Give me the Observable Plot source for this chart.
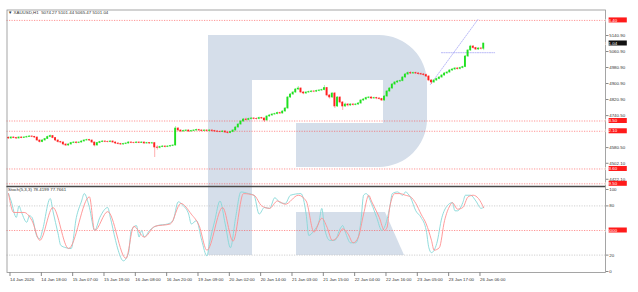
<!DOCTYPE html>
<html>
<head>
<meta charset="utf-8">
<script src="https://cdn.jsdelivr.net/npm/d3@7"></script>
<script src="https://cdn.jsdelivr.net/npm/@observablehq/plot@0.6"></script>
<style>
html,body{margin:0;padding:0;background:#fff;}
#chart{position:relative;width:638px;height:292px;overflow:hidden;background:#fff;}
#chart svg{position:absolute;left:0;}
</style>
</head>
<body>
<div id="chart"></div>
<script>
// ---------- data ----------
const chartTitle = "\u25BC XAUUSD,H1  5074.27 5101.44 5065.47 5101.04";
const oscTitle = "Stoch(5,3,3) 78.4199 77.7661";

const opens = [
4630,4626,4631,4628.5,4626,4631,4628.5,4631,4633.5,4636,
4634,4631,4616,4608.5,4616,4623.5,4633.5,4638.5,4628.5,4616,
4608.5,4606,4596,4591,4596,4603.5,4606,4603.5,4606,4611,
4616,4618.5,4616,4606,4591,4603.5,4608.5,4611,4609,4608.5,
4611,4606,4601,4598.5,4596,4598.5,4601,4606,4604,4603.5,
4606,4603.5,4606,4601,4603.5,4601,4603,4581,4579,4583.5,
4586,4583.5,4586,4588.5,4591,4676,4666,4661,4663.5,4666,
4661,4663.5,4666,4668.5,4666,4663.5,4666,4663.5,4666,4663.5,
4661,4659.5,4658.5,4661,4656,4653.5,4658.5,4666,4681,4696,
4711,4721,4718.5,4723.5,4726,4724,4723.5,4728.5,4726,4716,
4736,4741,4746,4748.5,4753.5,4751,4761,4776,4831,4846,
4856,4871,4876,4856,4851,4856,4858.5,4861,4860,4863.5,
4866,4868.5,4878.5,4841,4831,4851,4786,4831,4806,4786,
4796,4791,4796,4793.5,4796,4801,4816,4821,4828.5,4831,
4826,4828.5,4826,4823.5,4816,4836,4861,4876,4896,4906,
4911,4913.5,4931,4946,4953.5,4951,4953.5,4951,4948.5,4946,
4943.5,4936,4916,4906,4916,4923.5,4931,4941,4951,4956,
4966,4971,4976,4973.5,4978.5,4983.5,5036,5066,5086,5078.5,
5071,5076,5074.27];
const highs = [
4634,4635,4634,4632,4635,4634,4636,4638,4641,4640,
4637,4633,4619,4620,4627,4638,4644,4641,4631,4619,
4612,4609,4599,4600,4607,4610,4610,4609,4615,4620,
4623,4622,4618,4608,4607,4612,4615,4614,4613,4615,
4614,4609,4604,4602,4602,4605,4610,4609,4608,4610,
4609,4610,4608,4607,4606,4607,4606,4590,4588,4590,
4589,4590,4592,4595,4686,4680,4669,4668,4670,4669,
4667,4670,4673,4672,4669,4670,4669,4670,4669,4667,
4665,4664,4665,4664,4660,4662,4670,4685,4700,4716,
4726,4727,4728,4731,4730,4729,4733,4732,4729,4740,
4746,4750,4753,4758,4758,4765,4781,4836,4851,4861,
4876,4886,4879,4860,4860,4863,4866,4865,4868,4871,
4873,4891,4881,4846,4855,4856,4836,4834,4811,4803,
4801,4800,4800,4801,4806,4820,4826,4833,4836,4834,
4833,4832,4830,4827,4840,4866,4881,4901,4911,4916,
4919,4936,4951,4959,4960,4958,4958,4955,4953,4951,
4948,4940,4920,4920,4928,4936,4946,4956,4961,4971,
4976,4981,4980,4983,4988,5041,5071,5092,5090,5082,
5080,5081,5101.44];
const lows = [
4622,4622,4625,4621,4623,4625,4626,4628,4631,4630,
4626,4612,4603,4605,4613,4621,4630,4624,4611,4603,
4600,4590,4586,4587,4593,4600,4599,4600,4603,4608,
4613,4611,4601,4584,4588,4600,4605,4605,4604,4605,
4602,4596,4594,4591,4592,4595,4598,4600,4599,4600,
4600,4601,4597,4598,4597,4596,4531,4568,4574,4580,
4579,4580,4582,4585,4588,4660,4655,4657,4660,4656,
4657,4660,4662,4661,4659,4660,4658,4660,4658,4656,
4655,4654,4655,4651,4648,4650,4655,4663,4678,4692,
4707,4713,4714,4719,4719,4718,4719,4721,4706,4713,
4732,4737,4742,4744,4746,4748,4757,4772,4826,4841,
4851,4866,4850,4845,4846,4851,4854,4855,4856,4859,
4861,4864,4834,4823,4826,4776,4781,4799,4766,4781,
4784,4786,4788,4789,4791,4797,4811,4817,4824,4821,
4822,4820,4818,4811,4812,4832,4857,4872,4891,4901,
4906,4909,4927,4941,4946,4946,4946,4943,4941,4938,
4931,4910,4896,4902,4911,4919,4927,4937,4946,4952,
4961,4966,4968,4969,4974,4980,5031,5061,5073,5066,
5066,5069,5065.47];
const closes = [
4626,4631,4628.5,4626,4631,4628.5,4631,4633.5,4636,4634,
4631,4616,4608.5,4616,4623.5,4633.5,4638.5,4628.5,4616,4608.5,
4606,4596,4591,4596,4603.5,4606,4603.5,4606,4611,4616,
4618.5,4616,4606,4591,4603.5,4608.5,4611,4609,4608.5,4611,
4606,4601,4598.5,4596,4598.5,4601,4606,4604,4603.5,4606,
4603.5,4606,4601,4603.5,4601,4603,4581,4579,4583.5,4586,
4583.5,4586,4588.5,4591,4676,4666,4661,4663.5,4666,4661,
4663.5,4666,4668.5,4666,4663.5,4666,4663.5,4666,4663.5,4661,
4659.5,4658.5,4661,4656,4653.5,4658.5,4666,4681,4696,4711,
4721,4718.5,4723.5,4726,4724,4723.5,4728.5,4726,4716,4736,
4741,4746,4748.5,4753.5,4751,4761,4776,4831,4846,4856,
4871,4876,4856,4851,4856,4858.5,4861,4860,4863.5,4866,
4868.5,4878.5,4841,4831,4851,4786,4831,4806,4786,4796,
4791,4796,4793.5,4796,4801,4816,4821,4828.5,4831,4826,
4828.5,4826,4823.5,4816,4836,4861,4876,4896,4906,4911,
4913.5,4931,4946,4953.5,4951,4953.5,4951,4948.5,4946,4943.5,
4936,4916,4906,4916,4923.5,4931,4941,4951,4956,4966,
4971,4976,4973.5,4978.5,4983.5,5036,5066,5086,5078.5,5071,
5076,5074.27,5101.04];

// horizontal levels (red dotted) and current price
const levelPrices = [5216.4, 4713.5, 4662.1, 4473.6, 4399.5];
const currentPrice = 5101.04;
// analysis objects (bar index, price)
const trendBars = [161.6, 180];
const trendPrices = [4896, 5225];
const hLineBars = [165.8, 186.2];
const hLinePrices = [5055, 5055];

// price axis tick values
const priceTicks = [5140.9, 5060.9, 4980.9, 4900.9, 4820.9, 4740.5, 4580.5, 4502.1, 4422.1];

// stochastic %K and %D (bar index, value)
const kBars = [0,1,3,4,5,7,8,9,11,12,13,16,17,19,20,22,24,26,28,29,31,33,35,38,39,41,42,44,46,47,49,50,51,52,54,57,61,63,65,67,69,70,72,74,76,77,79,81,83,85,87,89,92,94,96,98,100,102,104,106,108,112,114,115,117,119,120,121,123,125,127,128,129,131,133,135,136,137,139,141,143,144,146,147,149,151,152,154,156,158,160,161,162,164,166,168,170,171,172,174,175,177,179,181,182];
const kValues = [95,86,66,80,72,60,68,66,42,40,50,89,74,46,32,29,28,66,86,95,78,50,66,78,66,38,26,13,23,50,56,42,50,42,50,56,58,62,85,80,70,58,62,38,19,35,62,86,58,29,66,97,95,93,70,78,77,90,84,83,93,95,70,44,50,62,77,54,38,38,52,56,48,35,35,62,93,95,83,66,50,54,78,95,97,93,97,90,74,66,50,29,23,34,66,80,84,74,74,84,93,93,86,77,78.42];
const dBars = [0,2,6,9,12,17,23,31,33,38,45,48,52,56,62,66,70,73,76,82,86,90,94,97,100,103,106,111,114,117,120,122,124,126,128,130,132,134,136,138,139,142,144,145,146,148,150,152,154,156,158,160,162,163,165,167,169,170,172,174,176,178,180,182];
const dValues = [95,72,72,62,38,78,28,91,50,73,16,55,42,55,58,83,70,56,26,78,37,95,93,80,77,86,82,93,86,48,65,54,38,42,52,46,35,42,70,93,86,66,50,54,78,95,95,93,91,83,70,58,38,26,29,62,80,84,76,78,91,93,89,77.77];
const oscLevels = [80, 20];
const oscMid = 50;
const oscTicks = [100, 80, 20, 0];

// time axis
const timeTickBars = [0,12,24,36,48,60,72,84,96,108,120,132,144,156,168,180];
const timeLabels = ["14 Jan 2026","14 Jan 18:00","15 Jan 07:00","15 Jan 19:00","16 Jan 08:00","16 Jan 20:00","19 Jan 09:00","20 Jan 02:00","20 Jan 14:00","21 Jan 03:00","21 Jan 15:00","22 Jan 04:00","22 Jan 16:00","23 Jan 05:00","23 Jan 17:00","26 Jan 06:00"];

// ---------- styling ----------
const FONT = "'Liberation Sans', Arial, 'DejaVu Sans', sans-serif";
const FS = 4.4;
const UP = "#1fe01f", DOWN = "#ff2020";
const LOGO = "#d5deea";
const XDOM = [-0.574, 228.65], XRANGE = [6.5, 605];

const bars = closes.map((c, i) => ({i, open: opens[i], high: highs[i], low: lows[i], close: c}));
const candleColor = d => d.close >= d.open ? UP : DOWN;
const trend = trendBars.map((b, k) => ({b, p: trendPrices[k]}));
const hline = hLineBars.map((b, k) => ({b, p: hLinePrices[k]}));
const kLine = kBars.map((b, k) => ({b, v: kValues[k]}));
const dLine = dBars.map((b, k) => ({b, v: dValues[k]}));
const fmt2 = d3.format(".2f");

function tagMark(tags) {
  return (index, scales, values, dims) => {
    const g = d3.create("svg:g").attr("font-family", FONT).attr("font-size", FS);
    const x0 = dims.width - dims.marginRight + 3.6;
    for (const t of tags) {
      const y = scales.y(t.value);
      g.append("rect").attr("x", x0).attr("y", y - 2.5).attr("width", 18.2).attr("height", 5).attr("fill", t.fill);
      g.append("text").attr("x", x0 + 0.6).attr("y", y).attr("dy", "0.36em").attr("fill", "#fff").text(t.text);
    }
    return g.node();
  };
}
function logoMark(paths) {
  return () => {
    const g = d3.create("svg:g");
    for (const p of paths) g.append("path").attr("d", p).attr("fill", LOGO);
    return g.node();
  };
}

// ---------- main price panel ----------
const main = Plot.plot({
  width: 638, height: 187,
  marginTop: 9.5, marginBottom: 1, marginLeft: 6.5, marginRight: 33,
  style: {fontFamily: FONT, fontSize: FS + "px", background: "transparent", overflow: "visible"},
  x: {domain: XDOM, range: XRANGE, axis: null},
  y: {domain: [4386, 5268.5], range: [186, 9.5], axis: null},
  marks: [
    logoMark(["M208,35H379A48,48 0 0 1 427,83V119A48,48 0 0 1 379,167H296V123H383V80H252V186H208Z"]),
    Plot.ruleY(levelPrices, {stroke: "#ff4040", strokeOpacity: 0.7, strokeWidth: 0.8, strokeDasharray: "1.2,1.3"}),
    Plot.line(trend, {x: "b", y: "p", stroke: "#a9a9f5", strokeWidth: 0.8, strokeDasharray: "1.2,1.2"}),
    Plot.line(hline, {x: "b", y: "p", stroke: "#a9a9f5", strokeWidth: 0.8, strokeDasharray: "1.2,1.2"}),
    Plot.ruleX(bars, {x: "i", y1: "low", y2: "high", stroke: candleColor, strokeWidth: 0.8, strokeOpacity: 0.45}),
    Plot.rect(bars, {x1: d => d.i - 0.36, x2: d => d.i + 0.36, y1: "open", y2: "close", fill: candleColor, insetTop: -0.3, insetBottom: -0.3}),
    Plot.frame({stroke: "#8f8f8f", strokeWidth: 0.8}),
    Plot.ruleY([4386], {stroke: "#4a4a4a", strokeWidth: 1.5}),
    Plot.axisY(priceTicks, {anchor: "right", tickSize: 2.5, tickPadding: 1.2, tickFormat: fmt2, fontSize: FS, fill: "#333", stroke: "#888", label: null}),
    tagMark([
      ...levelPrices.map(v => ({value: v, text: fmt2(v), fill: "#ff1a1a"})),
      {value: currentPrice, text: fmt2(currentPrice), fill: "#111"}
    ]),
    Plot.text([chartTitle], {frameAnchor: "top-left", dx: 1, dy: 1.3, fontSize: FS, fill: "#333"})
  ]
});

// ---------- stochastic panel + time axis ----------
const osc = Plot.plot({
  width: 638, height: 106,
  marginTop: 0, marginBottom: 20, marginLeft: 6.5, marginRight: 33,
  style: {fontFamily: FONT, fontSize: FS + "px", background: "transparent", overflow: "visible"},
  x: {domain: XDOM, range: XRANGE, axis: null},
  y: {domain: [0, 100], range: [85, 3], axis: null},
  marks: [
    logoMark(["M208,0H252V69H208Z", "M296,26H385L404,69H296Z"]),
    Plot.ruleY(oscLevels, {stroke: "#c4c4c4", strokeWidth: 0.8, strokeDasharray: "1.2,1.3"}),
    Plot.ruleY([oscMid], {stroke: "#ff4040", strokeOpacity: 0.7, strokeWidth: 0.8, strokeDasharray: "1.2,1.3"}),
    Plot.line(kLine, {x: "b", y: "v", stroke: "#86d8d8", strokeWidth: 0.9, curve: "monotone-x"}),
    Plot.line(dLine, {x: "b", y: "v", stroke: "#ff9090", strokeWidth: 0.9, curve: "monotone-x"}),
    Plot.frame({stroke: "#8f8f8f", strokeWidth: 0.8}),
    Plot.axisY(oscTicks, {anchor: "right", tickSize: 2.5, tickPadding: 1.2, tickFormat: d => String(d), fontSize: FS, fill: "#333", stroke: "#888", label: null}),
    tagMark([{value: oscMid, text: "50.0000", fill: "#ff1a1a"}]),
    Plot.axisX(timeTickBars, {anchor: "bottom", tickSize: 4, tickPadding: 1.5, textAnchor: "start", dx: 1.5,
      tickFormat: d => timeLabels[timeTickBars.indexOf(d)], fontSize: FS, fill: "#333", stroke: "#888", label: null}),
    Plot.text([oscTitle], {frameAnchor: "top-left", dx: 1, dy: 1.8, fontSize: FS, fill: "#333"})
  ]
});

const host = document.getElementById("chart");
osc.style.top = "186px";
main.style.top = "0px";
host.appendChild(osc);
host.appendChild(main);
</script>
</body>
</html>
